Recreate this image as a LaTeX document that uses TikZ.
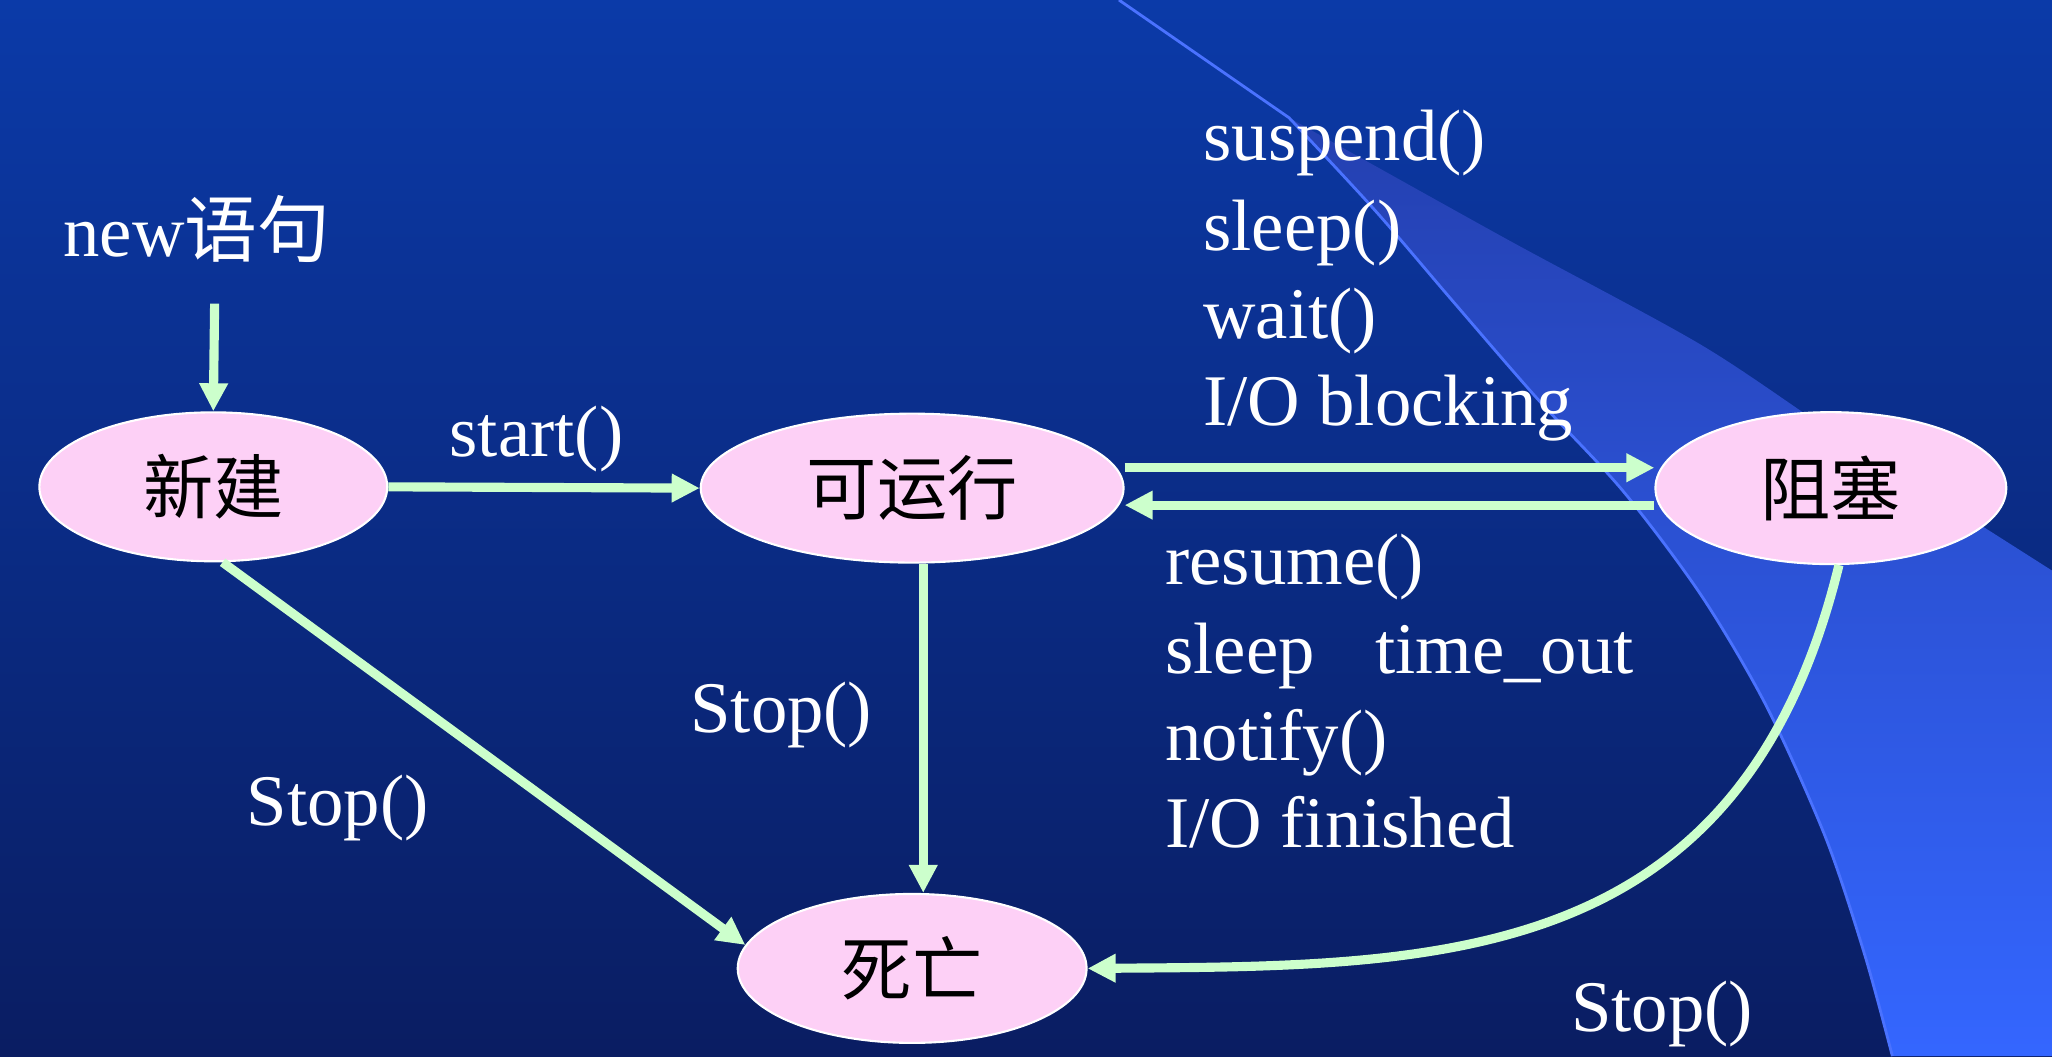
\documentclass[tikz,border=0pt]{standalone}
\usepackage{fontspec}
\setmainfont{Liberation Serif}
\newfontfamily\cjk{Noto Sans CJK SC}
\usetikzlibrary{arrows.meta,shapes.geometric,calc}
\definecolor{bgtop}{HTML}{0B3AA8}
\definecolor{bgbot}{HTML}{0A1D62}
\definecolor{bandtop}{HTML}{2440B0}
\definecolor{bandbot}{HTML}{3466FF}
\definecolor{thinline}{HTML}{4A72FF}
\definecolor{pinkfill}{HTML}{FDD0F6}
\definecolor{arrowgreen}{HTML}{CCFFCC}
\begin{document}
\begin{tikzpicture}[x=0.0130867cm,y=-0.0130867cm,
  state/.style={ellipse, fill=pinkfill, draw=white, line width=0.6pt, inner sep=0pt, text=black, font=\cjk\fontsize{20}{24}\selectfont},
  lbl/.style={anchor=base west, inner sep=0pt, text=white, font=\fontsize{20.7}{25}\selectfont},
  conn/.style={draw=arrowgreen, line width=2.6pt, -{Triangle[length=0.28cm,width=0.27cm]}},
]
\useasboundingbox (0,0) rectangle (1568,807);
\shade[top color=bgtop, bottom color=bgbot] (0,0) rectangle (1568,807);
\shade[top color=bandtop, bottom color=bandbot]
  plot[smooth] coordinates {(985,90) (1050,160) (1110,230) (1175,305) (1240,375) (1300,455) (1350,540) (1395,640) (1425,730) (1446,807)}
  -- (1568,807) -- (1568,436)
  -- plot[smooth] coordinates {(1513,401) (1400,330) (1299,263) (1150,182) (985,90)} -- cycle;
\draw[thinline, line width=0.8pt] (855,0) -- plot[smooth] coordinates {(985,90) (1050,160) (1110,230) (1175,305) (1240,375) (1300,455) (1350,540) (1395,640) (1425,730) (1446,807)};

\node[state, minimum width=3.48cm, minimum height=1.49cm] (xj) at (163,372) {新建};
\node[state, minimum width=4.23cm, minimum height=1.49cm] (kyx) at (697,373) {可运行};
\node[state, minimum width=3.51cm, minimum height=1.52cm] (zs) at (1399,373) {阻塞};
\node[state, minimum width=3.49cm, minimum height=1.49cm] (sw) at (697,740) {死亡};

\node[lbl] (new) at (48,196) {new{\cjk 语句}};
\node[lbl] (start) at (343,349) {start()};
\node[lbl] (l1) at (919,123) {suspend()};
\node[lbl] (l2) at (919,191.5) {sleep()};
\node[lbl] (l3) at (919,259) {wait()};
\node[lbl] (l4) at (919,325) {I/O blocking};
\node[lbl] (r1) at (890,447) {resume()};
\node[lbl] (r2) at (890,514.5) {sleep\hspace{0.83em}time\_out};
\node[lbl] (r3) at (890,581) {notify()};
\node[lbl] (r4) at (890,647.5) {I/O finished};
\node[lbl] (s1) at (188,631) {Stop()};
\node[lbl] (s2) at (527,560) {Stop()};
\node[lbl] (s3) at (1200,788) {Stop()};

\coordinate (newtail) at (164,232);
\draw[conn] (newtail) -- (xj.north);
\draw[conn] (xj.east) -- (kyx.west);
\draw[conn] ([yshift=0.204cm]kyx.east) -- ([yshift=0.204cm]zs.west);
\draw[conn] ([yshift=-0.17cm]zs.west) -- ([yshift=-0.17cm]kyx.east);
\draw[conn] ([xshift=0.111cm]kyx.south) -- ([xshift=0.111cm]sw.north);
\draw[conn] (xj.-83) -- (sw.172);
\draw[conn] (zs.-84) .. controls (1330,740) and (1100,738) .. (sw.east);
\end{tikzpicture}
\end{document}
